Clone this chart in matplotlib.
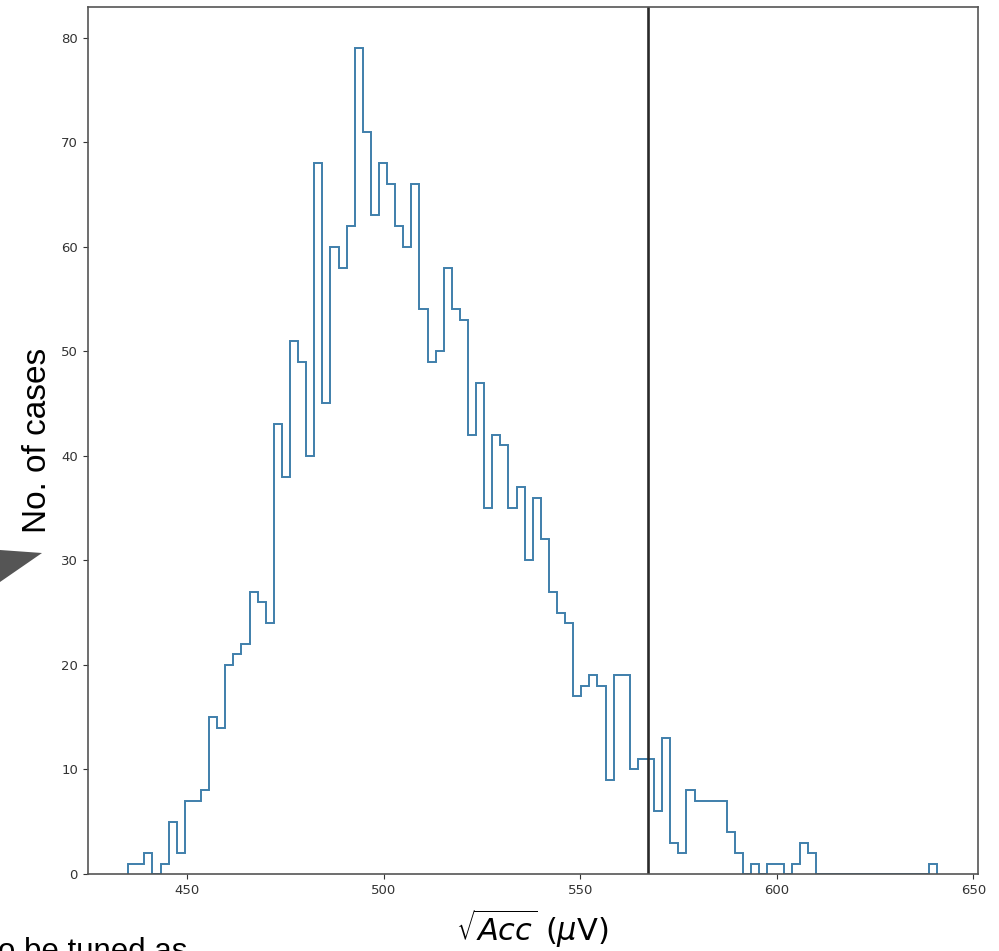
import numpy as np
import matplotlib.pyplot as plt
from matplotlib.patches import Polygon

# histogram counts, 100 equal bins between the sample min and max
counts = [1, 1, 2, 0, 1, 5, 2, 7, 7, 8,
          15, 14, 20, 21, 22, 27, 26, 24, 43, 38,
          51, 49, 40, 68, 45, 60, 58, 62, 79, 71,
          63, 68, 66, 62, 60, 66, 54, 49, 50, 58,
          54, 53, 42, 47, 35, 42, 41, 35, 37, 30,
          36, 32, 27, 25, 24, 17, 18, 19, 18, 9,
          19, 19, 10, 11, 11, 6, 13, 3, 2, 8,
          7, 7, 7, 7, 4, 2, 0, 1, 0, 1,
          1, 0, 1, 3, 2, 0, 0, 0, 0, 0,
          0, 0, 0, 0, 0, 0, 0, 0, 0, 1]
acc_min = 434.96
acc_max = 640.8
threshold = 567.1
xticks = [450, 500, 550, 600, 650]
yticks = [0, 10, 20, 30, 40, 50, 60, 70, 80]

edges = np.linspace(acc_min, acc_max, len(counts) + 1)
centers = 0.5 * (edges[:-1] + edges[1:])

fig = plt.figure(figsize=(9.99, 9.51), dpi=100)
ax = fig.add_axes([0.0878, 0.081, 0.8909, 0.912])

ax.hist(centers, bins=edges, weights=counts, histtype='step',
        color='#3f7fab', linewidth=1.4)
ax.axvline(threshold, color='#2a2a2a', linewidth=1.9)

ax.set_xticks(xticks)
ax.set_yticks(yticks)
ax.tick_params(labelsize=9.5, colors='#333333', length=3.5, width=0.8)
for s in ax.spines.values():
    s.set_color('#555555')
    s.set_linewidth(1.2)

ax.set_ylabel('No. of cases', fontsize=24, family='Liberation Sans', color='black')
ax.yaxis.set_label_coords(-0.039, 0.5)
ax.set_xlabel(r'$\sqrt{Acc}$ ($\mu$V)', fontsize=22, color='black')
ax.xaxis.set_label_coords(0.5, -0.038)

# leftovers from the slide the plot sits on
fig.patches.append(Polygon([[0, 1 - 550 / 951], [42 / 999, 1 - 553 / 951], [0, 1 - 582 / 951]],
                           closed=True, transform=fig.transFigure,
                           facecolor='#555555', edgecolor='none'))
fig.text(-0.002, -0.0095, 'o be tuned as', fontsize=22.5, family='Liberation Sans',
         ha='left', va='baseline')

fig.savefig('out.png', dpi=100)
